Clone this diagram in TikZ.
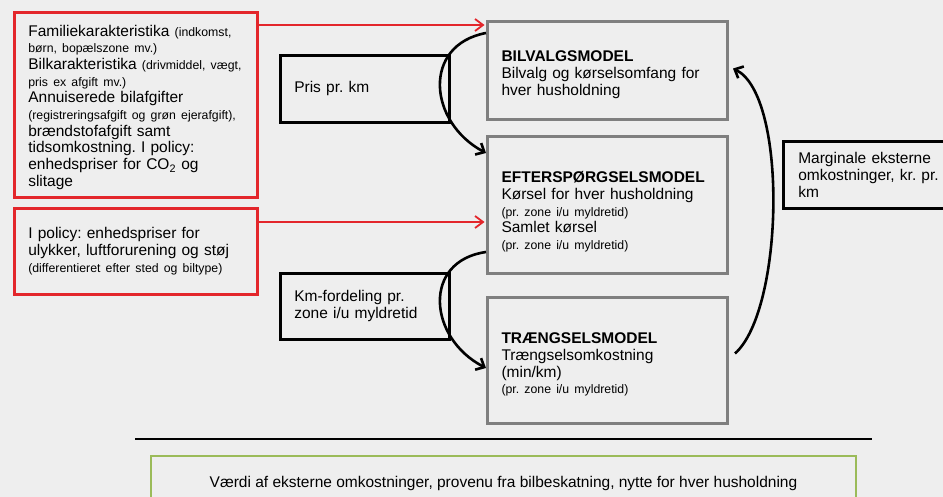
\documentclass[tikz,border=0pt]{standalone}
\usepackage{fontspec}
\setmainfont{Liberation Sans}
\usetikzlibrary{arrows.meta,shadows}

\definecolor{baggrund}{HTML}{EEEEEE}
\definecolor{roed}{HTML}{E3262B}
\definecolor{groen}{HTML}{9BBB59}
\definecolor{kassegraa}{HTML}{7F7F7F}

\newcommand{\storskrift}{\fontsize{15.5}{16.7}\selectfont\frenchspacing}
\newcommand{\lille}[1]{{\fontsize{12.3}{16.7}\selectfont #1}}
\newcommand{\ned}[1]{\rule{0pt}{#1}} % skubber teksten lidt ned i boksen

\tikzset{
  boks/.style={anchor=north west, align=left, inner xsep=14pt, inner ysep=0pt, font=\storskrift, fill=baggrund},
  roedboks/.style={boks, draw=roed, line width=2.6pt},
  sortboks/.style={boks, draw=black, line width=2.6pt},
  modelboks/.style={boks, draw=kassegraa, line width=3pt,
    drop shadow={shadow xshift=1.5pt, shadow yshift=-1.5pt, opacity=0.35, fill=black!60}},
  pil/.style={-{Straight Barb[length=7pt,width=13pt]}, line width=2.6pt},
  roedpil/.style={-{Straight Barb[length=8pt,width=12pt]}, draw=roed, line width=1.8pt},
}

\begin{document}
\begin{tikzpicture}[x=1pt,y=-1pt]
  \fill[baggrund] (0,0) rectangle (943,497);
  \useasboundingbox (0,0) rectangle (943,497);

  % input til venstre
  \node[roedboks, minimum width=243pt, minimum height=185pt, text width=215pt] (fam) at (13,11)
    {\ned{16pt}Familiekarakteristika \lille{(indkomst,}\\
     \lille{børn, bopælszone mv.)}\\
     Bilkarakteristika \lille{(drivmiddel, vægt,}\\
     \lille{pris ex afgift mv.)}\\
     Annuiserede bilafgifter\\
     \lille{(registreringsafgift og grøn ejerafgift),}\\
     brændstofafgift samt\\
     tidsomkostning. I policy:\\
     enhedspriser for CO\textsubscript{2} og\\
     slitage};
  \node[roedboks, minimum width=243pt, minimum height=86pt, text width=215pt] (pol) at (13,207)
    {I policy: enhedspriser for\\
     ulykker, luftforurening og støj\\
     \lille{(differentieret efter sted og biltype)}};

  \node[sortboks, minimum width=169pt, minimum height=67pt, text width=141pt] (pris) at (279,54) {Pris pr. km};
  \node[sortboks, minimum width=169pt, minimum height=66pt, text width=141pt] (km) at (279,272)
    {Km-fordeling pr.\\zone i/u myldretid};

  % modellerne
  \node[modelboks, minimum width=240pt, minimum height=98pt, text width=212pt] (bil) at (486,20)
    {\ned{19pt}\textbf{BILVALGSMODEL}\\Bilvalg og kørselsomfang for\\hver husholdning};
  \node[modelboks, minimum width=240pt, minimum height=137pt, text width=212pt] (eft) at (486,135)
    {\ned{25pt}\textbf{EFTERSPØRGSELSMODEL}\\Kørsel for hver husholdning\\\lille{(pr. zone i/u myldretid)}\\
     Samlet kørsel\\\lille{(pr. zone i/u myldretid)}};
  \node[modelboks, minimum width=240pt, minimum height=126pt, text width=212pt] (tr) at (486,296)
    {\ned{19pt}\textbf{TRÆNGSELSMODEL}\\Trængselsomkostning\\(min/km)\\\lille{(pr. zone i/u myldretid)}};

  \node[sortboks, inner xsep=15pt, minimum height=67pt, text width=145pt] (marg) at (782,140)
    {Marginale eksterne\\omkostninger, kr. pr.\\km};

  % roede pile
  \coordinate (r1) at ([yshift=-14pt]fam.north east);
  \coordinate (r2) at ([yshift=-15pt]pol.north east);
  \draw[roedpil, shorten >=1.5pt] (r1) -- (r1 -| bil.west);
  \draw[roedpil, shorten >=1.5pt] (r2) -- (r2 -| eft.west);

  % sorte buer
  \draw[pil] ([yshift=-13pt]bil.north west) .. controls (422,45) and (428,122) .. ([yshift=-18pt]eft.north west);
  \draw[pil] ([yshift=23pt]eft.south west) .. controls (422,261) and (428,338) .. ([yshift=-72pt]tr.north west);
  \draw[pil] ([xshift=6pt,yshift=7pt]tr.east) .. controls (784,310) and (788,95) .. ([xshift=4pt,yshift=2pt]bil.east);

  % resultat
  \coordinate (skilleV) at (135,439);
  \coordinate (skilleH) at (872,439);
  \draw[line width=2.2pt] (skilleV) -- (skilleH);
  \node[draw=groen, line width=2.6pt, fill=baggrund, font=\storskrift, minimum width=705pt, minimum height=54pt] (vaerdi) at (503.5,483)
    {Værdi af eksterne omkostninger, provenu fra bilbeskatning, nytte for hver husholdning};
\end{tikzpicture}
\end{document}
